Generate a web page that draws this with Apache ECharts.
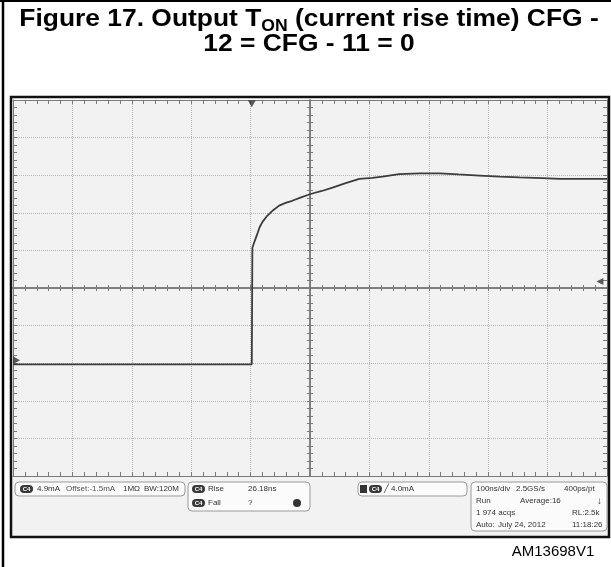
<!DOCTYPE html>
<html>
<head>
<meta charset="utf-8">
<script src="https://cdn.jsdelivr.net/npm/echarts@6/dist/echarts.min.js"></script>
<style>
  html, body { margin: 0; padding: 0; background: #fff; }
  #chart { width: 611px; height: 567px; }
</style>
</head>
<body>
<div id="chart"></div>
<script>
// trace: time in ns (100 ns/div), level in divisions from centre
const timeNs = [-500, -98, -97, -94, -91, -88, -85, -80, -72, -62, -52, -40, -30, -15, 1, 20, 38, 60, 83, 105, 122, 150, 185, 218, 250, 285, 320, 353, 390, 421, 460, 500]
const levelDiv = [-2.03, -2.03, 1.07, 1.21, 1.34, 1.47, 1.61, 1.76, 1.92, 2.07, 2.19, 2.27, 2.32, 2.41, 2.50, 2.58, 2.67, 2.79, 2.90, 2.93, 2.96, 3.03, 3.05, 3.05, 3.02, 2.99, 2.96, 2.94, 2.92, 2.90, 2.90, 2.90]

const xRange = [-500, 500]
const yRange = [-5, 5]

// screen markers
const triggerTimeNs = [-98]
const groundLevelDiv = [-1.92]
const triggerLevelDiv = [0.17]

const chart = echarts.init(document.getElementById('chart'))

const gray = '#7a7a7a'
const txt = '#333'
const f = '8px "Liberation Sans", Arial, sans-serif'
const titleFont = 'bold 24px "Liberation Sans", Arial, sans-serif'
const subFont = 'bold 16px "Liberation Sans", Arial, sans-serif'

function edgeAxis(dim, position, inside, onZero, len) {
  const isX = dim === 'x'
  return {
    type: 'value',
    min: isX ? xRange[0] : yRange[0],
    max: isX ? xRange[1] : yRange[1],
    interval: isX ? 100 : 1,
    position,
    axisLine: { show: true, onZero, lineStyle: { color: gray, width: onZero ? 1.5 : 1 } },
    axisTick: { show: true, inside, length: len, lineStyle: { color: gray } },
    minorTick: { show: true, splitNumber: 5, length: len, lineStyle: { color: gray } },
    axisLabel: { show: false },
    splitLine: { show: false },
  }
}

const xAxes = [
  edgeAxis('x', 'bottom', true, false, 4),
  edgeAxis('x', 'top', true, false, 4),
  edgeAxis('x', 'bottom', true, true, 3),
  edgeAxis('x', 'bottom', false, true, 3),
]
xAxes[0].splitLine = { show: true, lineStyle: { color: '#b5b5b5', type: 'dotted', width: 1 } }

const yAxes = [
  edgeAxis('y', 'left', true, false, 4),
  edgeAxis('y', 'right', true, false, 4),
  edgeAxis('y', 'left', true, true, 3),
  edgeAxis('y', 'left', false, true, 3),
]
yAxes[0].splitLine = { show: true, lineStyle: { color: '#b5b5b5', type: 'dotted', width: 1 } }

function badge(x, y, label) {
  return [
    { type: 'rect', shape: { x, y, width: 13, height: 8, r: 4 }, style: { fill: '#3a3a3a' } },
    { type: 'text', x: x + 6.5, y: y + 4, style: { text: label, fill: '#fff', font: 'bold 6px sans-serif', align: 'center', verticalAlign: 'middle' } },
  ]
}
function label(x, y, s, extra) {
  return { type: 'text', x, y, style: Object.assign({ text: s, fill: txt, font: f, verticalAlign: 'middle' }, extra || {}) }
}
function box(x, y, w, h) {
  return { type: 'rect', shape: { x, y, width: w, height: h, r: 4 }, style: { fill: '#fbfbfb', stroke: '#9a9a9a', lineWidth: 1 } }
}

// title line 1 has a subscript, so lay it out from measured widths
const measure = document.createElement('canvas').getContext('2d')
function textWidth(s, font) { measure.font = font; return measure.measureText(s).width }
const t1a = 'Figure 17. Output T', t1s = 'ON', t1b = ' (current rise time) CFG -'
const w1a = textWidth(t1a, titleFont), w1s = textWidth(t1s, subFont), w1b = textWidth(t1b, titleFont)
const titleScale = 1.1
const titleLeft = -(w1a + w1s + w1b) / 2

const graphics = [
  // outer figure frame
  { type: 'line', shape: { x1: 3, y1: 0, x2: 3, y2: 567 }, style: { stroke: '#000', lineWidth: 2.5 } },
  { type: 'line', shape: { x1: 0, y1: 1, x2: 611, y2: 1 }, style: { stroke: '#000', lineWidth: 2 } },
  // title
  {
    type: 'group', x: 309, y: 0, scaleX: titleScale,
    children: [
      { type: 'text', x: titleLeft, y: 19.5, style: { text: t1a, font: titleFont, fill: '#000', verticalAlign: 'middle' } },
      { type: 'text', x: titleLeft + w1a, y: 26.5, style: { text: t1s, font: subFont, fill: '#000', verticalAlign: 'middle' } },
      { type: 'text', x: titleLeft + w1a + w1s, y: 19.5, style: { text: t1b, font: titleFont, fill: '#000', verticalAlign: 'middle' } },
      { type: 'text', x: 0, y: 44, style: { text: '12 = CFG - 11 = 0', font: titleFont, fill: '#000', align: 'center', verticalAlign: 'middle' } },
    ],
  },
  // status area background and scope frame
  { type: 'rect', shape: { x: 11, y: 476, width: 598, height: 61 }, style: { fill: '#f2f2f2' } },
  { type: 'rect', shape: { x: 11, y: 97, width: 598, height: 440 }, style: { fill: 'none', stroke: '#111', lineWidth: 2.5 }, z: 10 },

  box(15, 482, 170, 14),
  ...badge(20, 485, 'C4'),
  label(37, 489, '4.9mA'),
  label(66, 489, 'Offset:-1.5mA', { fill: '#555' }),
  label(123, 489, '1MΩ'),
  label(144, 489, 'BW:120M'),

  box(188, 482, 122, 29),
  ...badge(192, 485, 'C4'),
  label(208, 489, 'Rise'),
  label(248, 489, '26.18ns'),
  ...badge(192, 499, 'C4'),
  label(208, 503, 'Fall'),
  label(248, 503, '?'),
  { type: 'circle', shape: { cx: 297, cy: 503, r: 4 }, style: { fill: '#333' } },

  box(358, 482, 109, 14),
  { type: 'rect', shape: { x: 360, y: 485, width: 7, height: 8 }, style: { fill: '#333' } },
  ...badge(369, 485, 'C4'),
  label(384, 489, '╱'),
  label(391, 489, '4.0mA'),

  box(471, 482, 136, 49),
  label(476, 489, '100ns/div'),
  label(516, 489, '2.5GS/s'),
  label(564, 489, '400ps/pt'),
  label(476, 501, 'Run'),
  label(520, 501, 'Average:16'),
  label(597, 501, '↓', { font: 'bold 10px sans-serif' }),
  label(476, 513, '1 974 acqs'),
  label(572, 513, 'RL:2.5k'),
  label(476, 525, 'Auto:'),
  label(498, 525, 'July 24, 2012'),
  label(572, 525, '11:18:26'),

  { type: 'text', x: 553, y: 552, style: { text: 'AM13698V1', fill: '#000', font: '15px "Liberation Sans", Arial, sans-serif', align: 'center', verticalAlign: 'middle' } },
]

chart.setOption({
  animation: false,
  backgroundColor: '#fff',
  grid: { left: 13, right: 4, top: 100, height: 376, show: true, backgroundColor: '#f2f2f2', borderWidth: 0 },
  xAxis: xAxes,
  yAxis: yAxes,
  graphic: graphics,
  series: [
    {
      type: 'line',
      data: timeNs.map((t, i) => [t, levelDiv[i]]),
      showSymbol: false,
      lineStyle: { color: '#3c3c3c', width: 1.8 },
      z: 5,
    },
    {
      type: 'scatter',
      data: triggerTimeNs.map(t => [t, yRange[1] - 0.1]),
      symbol: 'path://M0,0 L10,0 L5,10 Z', symbolSize: [8, 7],
      itemStyle: { color: '#333' },
    },
    {
      type: 'scatter',
      data: groundLevelDiv.map(v => [xRange[0] + 6, v]),
      symbol: 'path://M0,0 L10,5 L0,10 Z', symbolSize: [7, 8],
      itemStyle: { color: '#333' },
    },
    {
      type: 'scatter',
      data: triggerLevelDiv.map(v => [xRange[1] - 12, v]),
      symbol: 'path://M10,0 L0,5 L10,10 Z', symbolSize: [7, 7],
      itemStyle: { color: '#333' },
    },
  ],
})
</script>
</body>
</html>
